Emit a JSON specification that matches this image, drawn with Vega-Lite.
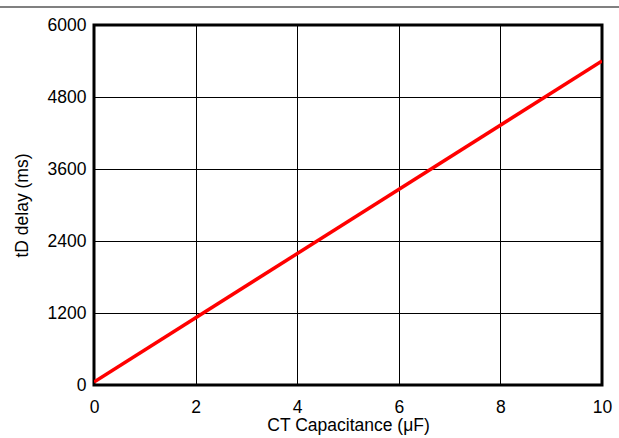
{
  "$schema": "https://vega.github.io/schema/vega-lite/v6.json",
  "width": 508,
  "height": 360,
  "autosize": {"type": "none"},
  "padding": {"left": 94, "top": 25, "right": 17, "bottom": 53},
  "background": "white",
  "config": {
    "font": "Liberation Sans",
    "view": {"stroke": "black", "strokeWidth": 3}
  },
  "datasets": {
    "curve": [
      {"c": 0, "t": 50},
      {"c": 10, "t": 5400}
    ],
    "deco": [
      {"x1": -1.851, "x2": 10.34, "y": 6300}
    ]
  },
  "layer": [
    {
      "data": {"name": "curve"},
      "mark": {"type": "line", "color": "#ff0000", "strokeWidth": 3.5, "clip": true},
      "encoding": {
        "x": {
          "field": "c", "type": "quantitative",
          "scale": {"domain": [0, 10], "nice": false},
          "axis": {
            "values": [0, 2, 4, 6, 8, 10], "format": "d",
            "domain": false, "ticks": false, "grid": true, "gridColor": "black", "gridWidth": 1, "gridOpacity": 1,
            "labelFont": "Liberation Sans", "labelFontSize": 17.5, "labelColor": "black", "labelFlush": false, "labelOverlap": false,
            "labelPadding": 13,
            "title": "CT Capacitance (μF)", "titleFont": "Liberation Sans", "titleFontSize": 17.5, "titleFontWeight": "normal", "titleColor": "black", "titlePadding": 1
          }
        },
        "y": {
          "field": "t", "type": "quantitative",
          "scale": {"domain": [0, 6000], "nice": false},
          "axis": {
            "values": [0, 1200, 2400, 3600, 4800, 6000], "format": "d",
            "domain": false, "ticks": false, "grid": true, "gridColor": "black", "gridWidth": 1, "gridOpacity": 1,
            "labelFont": "Liberation Sans", "labelFontSize": 17.5, "labelColor": "black", "labelFlush": false, "labelOverlap": false,
            "labelPadding": 8,
            "title": "tD delay (ms)", "titleFont": "Liberation Sans", "titleFontSize": 17.5, "titleFontWeight": "normal", "titleColor": "black", "titlePadding": 16
          }
        }
      }
    },
    {
      "data": {"name": "deco"},
      "mark": {"type": "rule", "color": "#808080", "strokeWidth": 2, "clip": false},
      "encoding": {
        "x": {"field": "x1", "type": "quantitative"},
        "x2": {"field": "x2"},
        "y": {"field": "y", "type": "quantitative"}
      }
    }
  ]
}
